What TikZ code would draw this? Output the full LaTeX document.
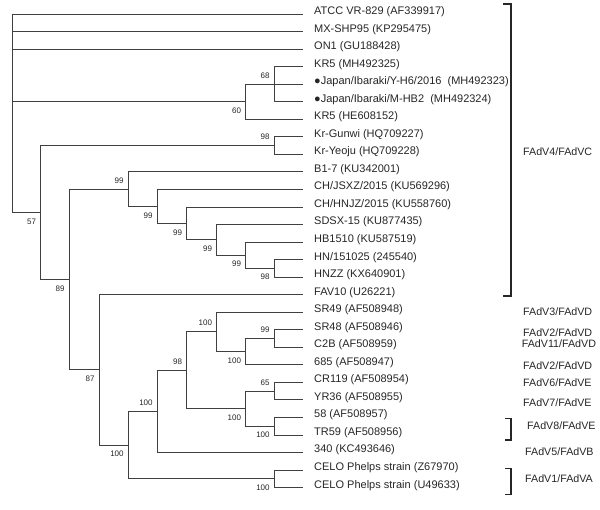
\documentclass[tikz,border=0pt]{standalone}
\usepackage{fontspec}
\setmainfont{Liberation Sans}
\begin{document}
\begin{tikzpicture}[x=1pt,y=-1pt,
    branch/.style={draw=black!75, line width=0.8pt},
    leaftext/.style={anchor=base west, inner sep=0pt, yshift=-0.5pt,
      font=\fontsize{11}{13}\selectfont, text=black!85},
    bsabove/.style={anchor=east, inner sep=0pt, xshift=-4.5pt, yshift=8.7pt,
      font=\fontsize{8}{9}\selectfont, text=black!85},
    bsbelow/.style={bsabove, yshift=-17.6pt},
    clade/.style={draw=black!85, line width=1.4pt},
    cladetext/.style={anchor=west, inner sep=0pt,
      font=\fontsize{10.7}{12}\selectfont, text=black!85}]
  \useasboundingbox (0,0) rectangle (600,510);

  % Leaves: tips of the branches and their strain names
  \foreach \name [count=\i] in {
      {ATCC VR-829 (AF339917)}, {MX-SHP95 (KP295475)}, {ON1 (GU188428)},
      {KR5 (MH492325)}, {●Japan/Ibaraki/Y-H6/2016\ \ (MH492323)},
      {●Japan/Ibaraki/M-HB2\ \ (MH492324)}, {KR5 (HE608152)},
      {Kr-Gunwi (HQ709227)}, {Kr-Yeoju (HQ709228)}, {B1-7 (KU342001)},
      {CH/JSXZ/2015 (KU569296)}, {CH/HNJZ/2015 (KU558760)},
      {SDSX-15 (KU877435)}, {HB1510 (KU587519)}, {HN/151025 (245540)},
      {HNZZ (KX640901)}, {FAV10 (U26221)}, {SR49 (AF508948)},
      {SR48 (AF508946)}, {C2B (AF508959)}, {685 (AF508947)},
      {CR119 (AF508954)}, {YR36 (AF508955)}, {58 (AF508957)},
      {TR59 (AF508956)}, {340 (KC493646)},
      {CELO Phelps strain (Z67970)}, {CELO Phelps strain (U49633)}}{%
    \coordinate (l\i) at (303, {14+17.54*(\i-1)});
    \node [leaftext] (t\i) at (314, {14+17.54*(\i-1)}) {\name};
  }

  % Internal nodes of the tree
  \coordinate (root)  at (12, 14);
  \coordinate (nKR)   at (245.7, 101.70);
  \coordinate (nJP)   at (274.3, 84.16);
  \coordinate (n57)   at (40.7, 212.50);
  \coordinate (nGW)   at (274.3, 145.55);
  \coordinate (n89)   at (69.3, 279.50);
  \coordinate (n99a)  at (128.3, 189.10);
  \coordinate (nB)    at (157.3, 206.39);
  \coordinate (nC)    at (186.7, 223.38);
  \coordinate (nD)    at (216.7, 239.83);
  \coordinate (nE)    at (245.7, 255.18);
  \coordinate (nF)    at (274.3, 268.33);
  \coordinate (n87)   at (99.3, 369.90);
  \coordinate (nG)    at (128.3, 445.10);
  \coordinate (nH)    at (157.3, 411.40);
  \coordinate (nI)    at (186.7, 370.30);
  \coordinate (nJ)    at (216.7, 331.90);
  \coordinate (nL)    at (245.7, 351.65);
  \coordinate (nM)    at (274.3, 338.49);
  \coordinate (nK)    at (245.7, 408.65);
  \coordinate (nN)    at (274.3, 391.11);
  \coordinate (nO)    at (274.3, 426.19);
  \coordinate (nCELO) at (274.3, 478.81);

  % Branches: parent |- child
  \foreach \p/\c in {root/l1, root/l2, root/l3, root/nKR, root/n57,
      nKR/nJP, nKR/l7, nJP/l4, nJP/l5, nJP/l6,
      n57/nGW, n57/n89, nGW/l8, nGW/l9,
      n89/n99a, n89/n87, n99a/l10, n99a/nB, nB/l11, nB/nC,
      nC/l12, nC/nD, nD/l13, nD/nE, nE/l14, nE/nF, nF/l15, nF/l16,
      n87/l17, n87/nG, nG/nH, nG/nCELO, nH/nI, nH/l26,
      nI/nJ, nI/nK, nJ/l18, nJ/nL, nL/nM, nL/l21, nM/l19, nM/l20,
      nK/nN, nK/nO, nN/l22, nN/l23, nO/l24, nO/l25,
      nCELO/l27, nCELO/l28}
    \draw [branch] (\p) |- (\c);

  % Bootstrap values
  \node [bsabove] (b68)   at (nJP)   {68};
  \node [bsbelow] (b60)   at (nKR)   {60};
  \node [bsabove] (b98a)  at (nGW)   {98};
  \node [bsbelow] (b57)   at (n57)   {57};
  \node [bsbelow] (b89)   at (n89)   {89};
  \node [bsabove] (b99a)  at (n99a)  {99};
  \node [bsbelow] (b99b)  at (nB)    {99};
  \node [bsbelow] (b99c)  at (nC)    {99};
  \node [bsbelow] (b99d)  at (nD)    {99};
  \node [bsbelow] (b99e)  at (nE)    {99};
  \node [bsbelow] (b98b)  at (nF)    {98};
  \node [bsbelow] (b87)   at (n87)   {87};
  \node [bsbelow] (b100a) at (nG)    {100};
  \node [bsabove] (b100b) at (nH)    {100};
  \node [bsabove] (b98c)  at (nI)    {98};
  \node [bsabove] (b100c) at (nJ)    {100};
  \node [bsbelow] (b100d) at (nL)    {100};
  \node [bsabove] (b99f)  at (nM)    {99};
  \node [bsbelow] (b100e) at (nK)    {100};
  \node [bsabove] (b65)   at (nN)    {65};
  \node [bsbelow] (b100f) at (nO)    {100};
  \node [bsbelow] (b100g) at (nCELO) {100};

  % Brackets and species / type names
  \draw [clade] (503,4) -- (511,4) -- (511,296) -- (503,296);
  \draw [clade] (505,418.3) -- (511,418.3) -- (511,440) -- (505,440);
  \draw [clade] (505,468.3) -- (511,468.3) -- (511,494.3) -- (505,494.3);
  \node [cladetext] (c4)  at (523,152)   {FAdV4/FAdVC};
  \node [cladetext] (c3)  at (523,311.7) {FAdV3/FAdVD};
  \node [cladetext] (c2a) at (523,333)   {FAdV2/FAdVD};
  \node [cladetext] (c11) at (521.7,344) {FAdV11/FAdVD};
  \node [cladetext] (c2b) at (523,366)   {FAdV2/FAdVD};
  \node [cladetext] (c6)  at (523,382.3) {FAdV6/FAdVE};
  \node [cladetext] (c7)  at (523,402.7) {FAdV7/FAdVE};
  \node [cladetext] (c8)  at (527,426)   {FAdV8/FAdVE};
  \node [cladetext] (c5)  at (525,452)   {FAdV5/FAdVB};
  \node [cladetext] (c1)  at (525,479)   {FAdV1/FAdVA};
\end{tikzpicture}
\end{document}
